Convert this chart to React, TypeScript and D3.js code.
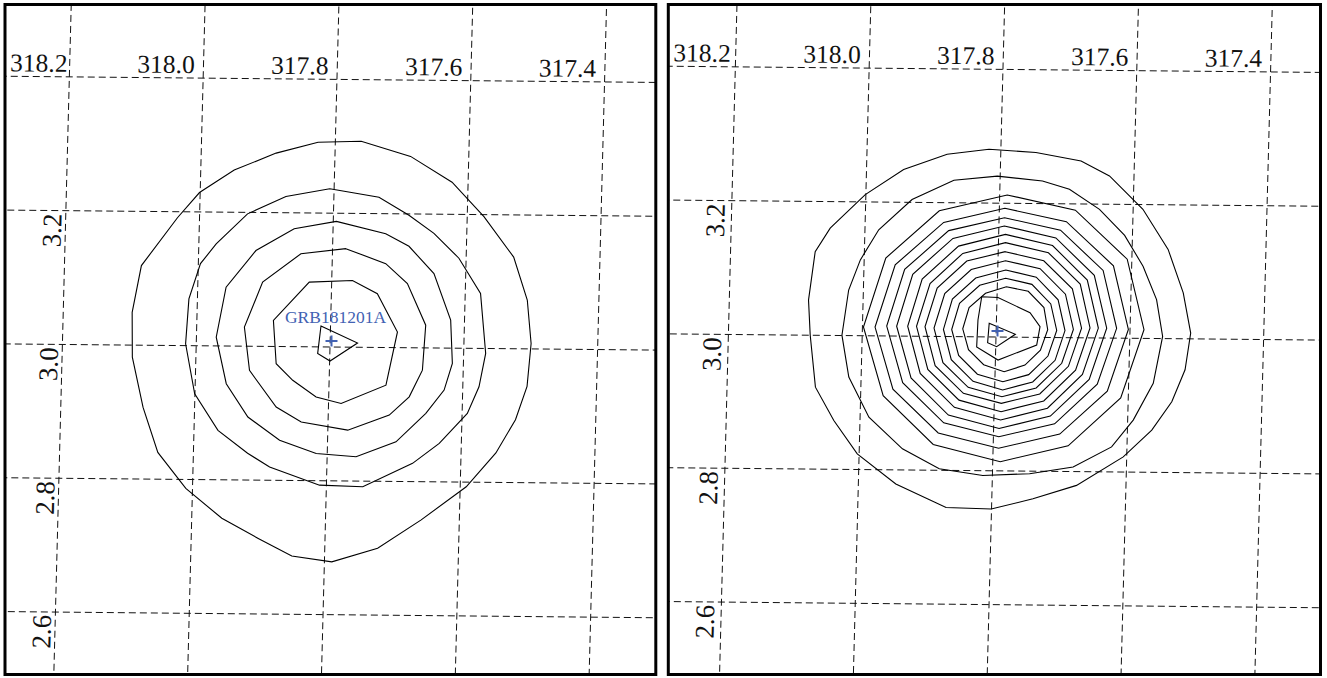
import React from 'react';
import * as d3 from 'd3';

const W = 1327;
const H = 678;

// ---- grid / tick data ----
const RA_LINES = [318.2, 318.0, 317.8, 317.6, 317.4];
const DEC_LINES = [3.4, 3.2, 3.0, 2.8, 2.6];
const DEC_LABELS = [3.2, 3.0, 2.8, 2.6];
const SOURCE_NAME = 'GRB181201A';
const SOURCE_POS: [number, number] = [317.798, 3.009];

// ---- contour rings as vertex lists (RA, Dec in degrees) ----
const LEFT_CONTOURS: [number, number][][] = [
  [[317.8258,3.3058],[317.7614,3.308],[317.687,3.286],[317.624,3.248],[317.575,3.197],[317.529,3.137],[317.507,3.073],[317.4996,3.008],[317.504,2.944],[317.52,2.894],[317.548,2.844],[317.591,2.793],[317.657,2.743],[317.721,2.7],[317.789,2.679],[317.849,2.687],[317.9005,2.7133],[317.955,2.7425],[318.01,2.7867],[318.0532,2.84],[318.077,2.907],[318.095,2.982],[318.097,3.049],[318.085,3.119],[318.033,3.191],[318.001,3.229],[317.95,3.263],[317.888,3.289]],
  [[317.8065,3.2364],[317.7326,3.2246],[317.6871,3.1979],[317.6491,3.1713],[317.6108,3.1345],[317.5771,3.0822],[317.5671,2.9927],[317.5758,2.9427],[317.5922,2.9028],[317.633,2.8576],[317.6721,2.8273],[317.7456,2.7916],[317.8103,2.7934],[317.8856,2.8199],[317.919,2.84],[317.9642,2.8739],[318.0004,2.9282],[318.0159,3.0027],[318.0127,3.0698],[317.9968,3.1228],[317.9741,3.1524],[317.9284,3.1978],[317.8717,3.2242]],
  [[317.7954,3.1878],[317.7211,3.1701],[317.6859,3.1516],[317.6475,3.1112],[317.6207,3.0418],[317.6165,2.9772],[317.6278,2.9373],[317.6542,2.9022],[317.6977,2.8593],[317.7568,2.8363],[317.8165,2.8406],[317.8717,2.8599],[317.92,2.8942],[317.9536,2.9437],[317.9704,3.013],[317.9576,3.0879],[317.9144,3.1431],[317.8581,3.1761]],
  [[317.7802,3.1472],[317.7199,3.1254],[317.6868,3.096],[317.6578,3.034],[317.661,2.9667],[317.6797,2.9267],[317.7088,2.8991],[317.7703,2.876],[317.8401,2.8876],[317.8781,2.9096],[317.9194,2.9639],[317.9287,3.0285],[317.9032,3.096],[317.8471,3.1389]],
  [[317.8335,3.0967],[317.769,3.0998],[317.7313,3.0804],[317.6998,3.0234],[317.7149,2.9437],[317.7812,2.9157],[317.8188,2.9251],[317.8544,2.9497],[317.8798,2.9743],[317.8856,3.039]],
  [[317.8143,3.0312],[317.759,3.0064],[317.7994,2.9791],[317.8182,2.99]],
];

const RIGHT_CONTOURS: [number, number][][] = [
  [[317.8177,3.2804],[317.8801,3.2723],[317.9445,3.249],[318.0009,3.2109],[318.052,3.1604],[318.0735,3.125],[318.0816,3.0525],[318.0777,3.0],[318.0679,2.9225],[318.0391,2.8728],[318.0028,2.8233],[317.944,2.7789],[317.868,2.7446],[317.8005,2.7429],[317.7385,2.7587],[317.6739,2.7794],[317.6052,2.8226],[317.5636,2.863],[317.5348,2.9058],[317.5162,2.9537],[317.5092,3.0087],[317.5219,3.0687],[317.5462,3.1334],[317.5854,3.1929],[317.6367,3.2423],[317.6797,3.2643],[317.7475,3.2762]],
  [[317.8042,3.2405],[317.869,3.2337],[317.9308,3.2042],[317.9794,3.1586],[318.0057,3.1133],[318.022,3.0681],[318.0303,3.0005],[318.0184,2.938],[317.9868,2.8784],[317.9355,2.8316],[317.8797,2.8022],[317.8144,2.7929],[317.7445,2.7962],[317.6797,2.8067],[317.623,2.8374],[317.5917,2.8778],[317.5632,2.9331],[317.551,3.0032],[317.5615,3.0582],[317.583,3.1079],[317.6117,3.1536],[317.6503,3.1922],[317.696,3.2217],[317.7366,3.2337]],
  [[317.8229,3.06],[317.7986,3.059],[317.7501,3.0368],[317.7346,3.016],[317.7389,2.9886],[317.7961,2.9656],[317.8285,2.9848],[317.8276,3.0251]],
  [[317.8107,3.0204],[317.7712,3.0044],[317.7987,2.9855],[317.8123,2.9913]],
];

// right-panel middle rings: centre (RA, Dec) and radius in arcmin every 30 deg of
// position angle, starting north and turning toward decreasing RA
const RIGHT_RING_CENTERS: [number, number][] = [
  [317.7888, 3.0131], [317.7918, 3.0131], [317.7919, 3.0147], [317.7919, 3.0147],
  [317.7899, 3.0148], [317.7895, 3.0148], [317.7895, 3.0143], [317.7888, 3.0125],
  [317.788, 3.0106], [317.788, 3.0106], [317.7865, 3.0118],
];
const RIGHT_RING_RADII: number[][] = [
  [11.96, 12.3, 12.6, 12.58, 12.3, 12.1, 11.96, 12.1, 12.3, 12.58, 12.4, 12.1],
  [10.76, 11.1, 11.4, 11.36, 11.1, 10.9, 10.76, 10.9, 11.1, 11.36, 11.2, 10.9],
  [9.82, 10.1, 10.35, 10.31, 10.05, 9.95, 9.82, 9.95, 10.1, 10.31, 10.2, 9.95],
  [9.08, 9.3, 9.45, 9.42, 9.2, 9.15, 9.08, 9.15, 9.25, 9.42, 9.35, 9.15],
  [8.32, 8.5, 8.6, 8.55, 8.35, 8.35, 8.32, 8.35, 8.45, 8.55, 8.5, 8.35],
  [7.58, 7.75, 7.85, 7.78, 7.6, 7.6, 7.58, 7.6, 7.7, 7.78, 7.7, 7.6],
  [6.8, 6.95, 7.05, 7.02, 6.85, 6.85, 6.8, 6.85, 6.95, 7.02, 6.95, 6.85],
  [6.1, 6.25, 6.3, 6.25, 6.1, 6.1, 6.1, 6.1, 6.2, 6.25, 6.2, 6.1],
  [5.38, 5.5, 5.5, 5.45, 5.35, 5.35, 5.38, 5.35, 5.4, 5.45, 5.45, 5.35],
  [4.64, 4.75, 4.75, 4.71, 4.6, 4.6, 4.64, 4.6, 4.65, 4.71, 4.7, 4.6],
  [3.81, 3.95, 3.95, 3.81, 3.7, 3.7, 3.81, 3.7, 3.75, 3.81, 3.8, 3.7],
];

function polarRing(center: [number, number], radii: number[]): [number, number][] {
  const step = (2 * Math.PI) / radii.length;
  return radii.map((r, i) => {
    const a = i * step;
    return [center[0] - (r * Math.sin(a)) / 60, center[1] + (r * Math.cos(a)) / 60] as [number, number];
  });
}

// ---- layout (not data) ----
type Panel = {
  x0: number; y0: number; x1: number; y1: number;
  cx: number; cy: number; showName: boolean;
  contours: [number, number][][];
};
const PANELS: Panel[] = [
  { x0: 5, y0: 4.5, x1: 655.8, y1: 674.5, cx: 330, cy: 347, showName: true, contours: LEFT_CONTOURS },
  {
    x0: 668.3, y0: 4.5, x1: 1320.5, y1: 674.5, cx: 996, cy: 337, showName: false,
    contours: [...RIGHT_CONTOURS, ...RIGHT_RING_CENTERS.map((c, i) => polarRing(c, RIGHT_RING_RADII[i]))],
  },
];
const PX_PER_DEG = 669;
const LEAN_X = 0.026;
const LEAN_Y = 0.0095;
const SERIF = '"Liberation Serif", "Times New Roman", "DejaVu Serif", serif';
const BLUE = '#4262b3';

function makeProjection(p: Panel) {
  const xs = d3.scaleLinear().domain([317.8, 318.8]).range([0, -PX_PER_DEG]);
  const ys = d3.scaleLinear().domain([3.0, 4.0]).range([0, -PX_PER_DEG]);
  return (ra: number, dec: number): [number, number] => {
    const dx = xs(ra);
    const dy = ys(dec);
    return [p.cx + dx - LEAN_X * dy, p.cy + dy + LEAN_Y * dx];
  };
}

function PanelView({ p, idx }: { p: Panel; idx: number }) {
  const proj = makeProjection(p);
  const clipId = `clip-${idx}`;
  const line = d3.line<[number, number]>().x(d => d[0]).y(d => d[1]);
  const ring = d3.line<[number, number]>().x(d => d[0]).y(d => d[1]).curve(d3.curveLinearClosed);

  const raPaths = RA_LINES.map(ra => line([proj(ra, 2.2), proj(ra, 3.8)]) as string);
  const decPaths = DEC_LINES.map(dec => line([proj(318.6, dec), proj(317.0, dec)]) as string);

  const fsRA = 25.5;
  const fsDec = 27;
  const angY = (Math.atan(LEAN_Y) * 180) / Math.PI;
  const angX = (Math.atan(LEAN_X) * 180) / Math.PI;

  const raLabels = RA_LINES.map(ra => {
    const [lx, ly] = proj(ra, 3.4);
    const estW = fsRA * 2.25;
    const xEnd = Math.max(lx - 8.5, p.x0 + 5 + estW);
    return { text: ra.toFixed(1), x: xEnd, y: ly - 5 };
  });
  const refX = proj(318.2, 3.0)[0];
  const decLabels = DEC_LABELS.map(dec => {
    const [lx, ly] = proj(318.2, dec);
    return { text: dec.toFixed(1), x: p.x0 + 53 + (lx - refX), y: ly + 3 };
  });

  const [sx, sy] = proj(SOURCE_POS[0], SOURCE_POS[1]);

  return (
    <g>
      <defs>
        <clipPath id={clipId}>
          <rect x={p.x0} y={p.y0} width={p.x1 - p.x0} height={p.y1 - p.y0} />
        </clipPath>
      </defs>
      <rect x={p.x0} y={p.y0} width={p.x1 - p.x0} height={p.y1 - p.y0} fill="#fff" />
      <g clipPath={`url(#${clipId})`}>
        {raPaths.map((d, i) => (
          <path key={`ra${i}`} d={d} stroke="#111" strokeWidth={1} strokeDasharray="7,4" fill="none" />
        ))}
        {decPaths.map((d, i) => (
          <path key={`de${i}`} d={d} stroke="#111" strokeWidth={1} strokeDasharray="7,4" fill="none" />
        ))}
        {p.contours.map((c, i) => (
          <path key={`c${i}`} d={ring(c.map(([ra, dec]) => proj(ra, dec))) as string} stroke="#000" strokeWidth={1.1} fill="none" />
        ))}
        {raLabels.map((l, i) => (
          <text key={`rl${i}`} x={l.x} y={l.y} textAnchor="end" fontFamily={SERIF} fontSize={fsRA} fill="#111"
            transform={`rotate(${angY} ${l.x} ${l.y})`}>{l.text}</text>
        ))}
        {decLabels.map((l, i) => (
          <text key={`dl${i}`} x={l.x} y={l.y} textAnchor="end" fontFamily={SERIF} fontSize={fsDec} fill="#111"
            transform={`rotate(${-90 + angX} ${l.x} ${l.y})`}>{l.text}</text>
        ))}
        <g stroke={BLUE} strokeWidth={2}>
          <line x1={sx - 6} y1={sy} x2={sx + 6} y2={sy} />
          <line x1={sx} y1={sy - 5.5} x2={sx} y2={sy + 5.5} />
        </g>
        {p.showName && (
          <text x={sx + 4} y={sy - 18} textAnchor="middle" fontFamily={SERIF} fontSize={17.5} fill={BLUE}>{SOURCE_NAME}</text>
        )}
      </g>
      <rect x={p.x0} y={p.y0} width={p.x1 - p.x0} height={p.y1 - p.y0} fill="none" stroke="#000" strokeWidth={3} />
    </g>
  );
}

export default function App() {
  return (
    <svg width={W} height={H} viewBox={`0 0 ${W} ${H}`}
      style={{ position: 'absolute', left: 0, top: 0, display: 'block', background: '#fff' }}>
      <rect x={0} y={0} width={W} height={H} fill="#fff" />
      {PANELS.map((p, i) => <PanelView key={i} p={p} idx={i} />)}
    </svg>
  );
}
